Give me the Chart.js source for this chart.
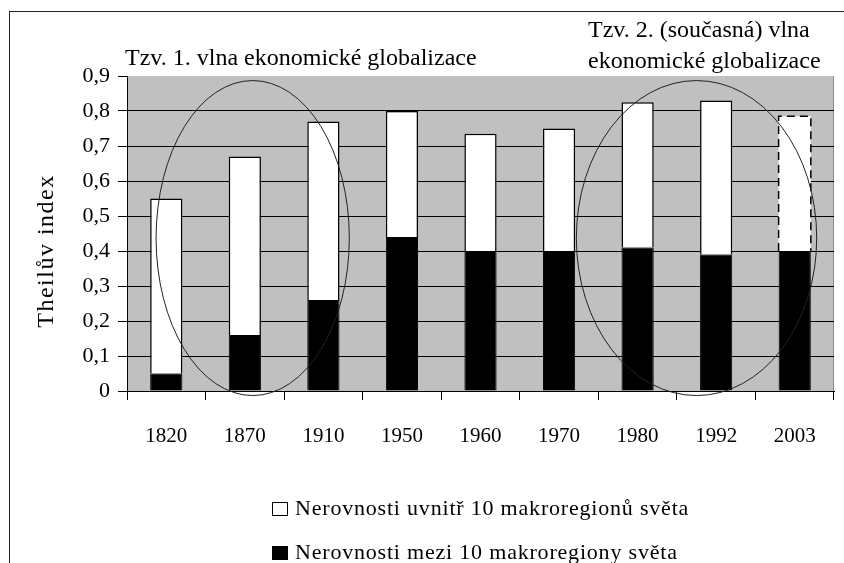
<!DOCTYPE html>
<html>
<head>
<meta charset="utf-8">
<script src="https://cdn.jsdelivr.net/npm/chart.js@4/dist/chart.umd.min.js"></script>
<style>
    body { margin: 0; background: #fff; font-family: "Liberation Serif", "Times New Roman", serif; }
    #wrap { position: relative; width: 844px; height: 563px; overflow: hidden; }
    #frame { position: absolute; left: 9px; top: 11px; width: 900px; height: 600px; border-left: 1px solid #222; border-top: 1px solid #222; }
    .note { position: absolute; font-size: 24px; color: #000; white-space: nowrap; }
    .ytitle { position: absolute; left: 45px; top: 251px; font-size: 24px; letter-spacing: 1.5px; white-space: nowrap;
              transform: translate(-50%, -50%) rotate(-90deg); }
    .legend { position: absolute; left: 272px; top: 486px; font-size: 22px; letter-spacing: 0.8px; line-height: 44px; color: #000; }
    .legend span.box { display: inline-block; width: 14px; height: 12px; border: 1px solid #000; margin-right: 7px; vertical-align: -1px; }
</style>
</head>
<body>
<div id="wrap">
    <div id="frame"></div>
    <canvas id="theilChart" width="844" height="563"></canvas>
    <div class="ytitle">Theilův index</div>
    <div class="note" style="left:125px; top:44px;">Tzv. 1. vlna ekonomické globalizace</div>
    <div class="note" style="left:588px; top:14px; line-height:31px;">Tzv. 2. (současná) vlna<br>ekonomické globalizace</div>
    <div class="legend">
        <div><span class="box" style="background:#fff"></span>Nerovnosti uvnitř 10 makroregionů světa</div>
        <div><span class="box" style="background:#000"></span>Nerovnosti mezi 10 makroregiony světa</div>
    </div>
</div>
<script>
// Theilův index - rozklad nerovností
const years = ['1820', '1870', '1910', '1950', '1960', '1970', '1980', '1992', '2003'];
const mezi = [0.05, 0.16, 0.26, 0.44, 0.40, 0.40, 0.41, 0.39, 0.40];       // černá část
const uvnitr = [0.50, 0.51, 0.51, 0.36, 0.335, 0.35, 0.415, 0.44, 0.385];  // bílá část
const yTicks = ['0', '0,1', '0,2', '0,3', '0,4', '0,5', '0,6', '0,7', '0,8', '0,9'];

// ovaly kolem obou vln (v jednotkách os)
const ovals = [
    { cx: 1.1, cy: 0.437, rx: 1.23, ry: 0.45 },
    { cx: 6.75, cy: 0.437, rx: 1.53, ry: 0.45 }
];

const serif = '"Liberation Serif", "Times New Roman", serif';

const plotBg = {
    id: 'plotBg',
    beforeDraw(chart) {
        const a = chart.chartArea, ctx = chart.ctx;
        ctx.save();
        ctx.fillStyle = '#c0c0c0';
        ctx.fillRect(a.left, a.top, a.right - a.left, a.bottom - a.top);
        ctx.strokeStyle = '#8a8a8a';
        ctx.beginPath();
        ctx.moveTo(a.right - 0.5, a.top);
        ctx.lineTo(a.right - 0.5, a.bottom);
        ctx.stroke();
        ctx.restore();
    }
};

const extras = {
    id: 'extras',
    afterDatasetsDraw(chart) {
        const ctx = chart.ctx, xs = chart.scales.x, ys = chart.scales.y;
        // přerušovaný okraj posledního sloupce
        const bar = chart.getDatasetMeta(1).data[years.length - 1];
        if (bar) {
            const l = bar.x - bar.width / 2, r = bar.x + bar.width / 2;
            ctx.save();
            ctx.strokeStyle = '#000';
            ctx.lineWidth = 1.5;
            ctx.setLineDash([8, 5]);
            ctx.beginPath();
            ctx.moveTo(l, bar.base);
            ctx.lineTo(l, bar.y);
            ctx.lineTo(r, bar.y);
            ctx.lineTo(r, bar.base);
            ctx.stroke();
            ctx.restore();
        }
        const step = xs.getPixelForValue(1) - xs.getPixelForValue(0);
        ctx.save();
        ctx.strokeStyle = '#222';
        ctx.lineWidth = 1;
        ovals.forEach(o => {
            ctx.beginPath();
            ctx.ellipse(xs.getPixelForValue(o.cx), ys.getPixelForValue(o.cy),
                o.rx * step, Math.abs(ys.getPixelForValue(o.ry) - ys.getPixelForValue(0)), 0, 0, Math.PI * 2);
            ctx.stroke();
        });
        ctx.restore();
    }
};

const ctx = document.getElementById('theilChart').getContext('2d');
new Chart(ctx, {
    type: 'bar',
    data: {
        labels: years,
        datasets: [
            {
                label: 'Nerovnosti mezi 10 makroregiony světa',
                data: mezi,
                backgroundColor: '#000',
                borderColor: '#000',
                borderWidth: 1,
                barPercentage: 0.41,
                categoryPercentage: 1
            },
            {
                label: 'Nerovnosti uvnitř 10 makroregionů světa',
                data: uvnitr,
                backgroundColor: '#fff',
                borderColor: '#000',
                borderWidth: years.map((y, i) => i === years.length - 1 ? 0 : 1.5),
                barPercentage: 0.41,
                categoryPercentage: 1
            }
        ]
    },
    options: {
        responsive: false,
        animation: false,
        devicePixelRatio: 1,
        layout: { padding: { left: 34, top: 76, right: 10, bottom: 112 } },
        plugins: { legend: { display: false }, tooltip: { enabled: false } },
        scales: {
            x: {
                stacked: true,
                grid: { drawOnChartArea: false, offset: true, tickLength: 9, color: '#000' },
                border: { color: '#000' },
                ticks: { color: '#000', font: { family: serif, size: 21 }, padding: 24 },
                afterFit: s => { s.height = 60; }
            },
            y: {
                stacked: true,
                min: 0,
                max: 0.9,
                ticks: {
                    stepSize: 0.1,
                    color: '#000',
                    font: { family: serif, size: 22 },
                    padding: 8,
                    callback: (v, i) => yTicks[i]
                },
                grid: {
                    color: c => (c.tick && c.tick.value > 0.85) ? 'rgba(0,0,0,0)' : '#000',
                    tickColor: '#000',
                    tickLength: 9
                },
                border: { color: '#000' },
                afterFit: s => { s.width = 93; }
            }
        }
    },
    plugins: [plotBg, extras]
});
</script>
</body>
</html>
